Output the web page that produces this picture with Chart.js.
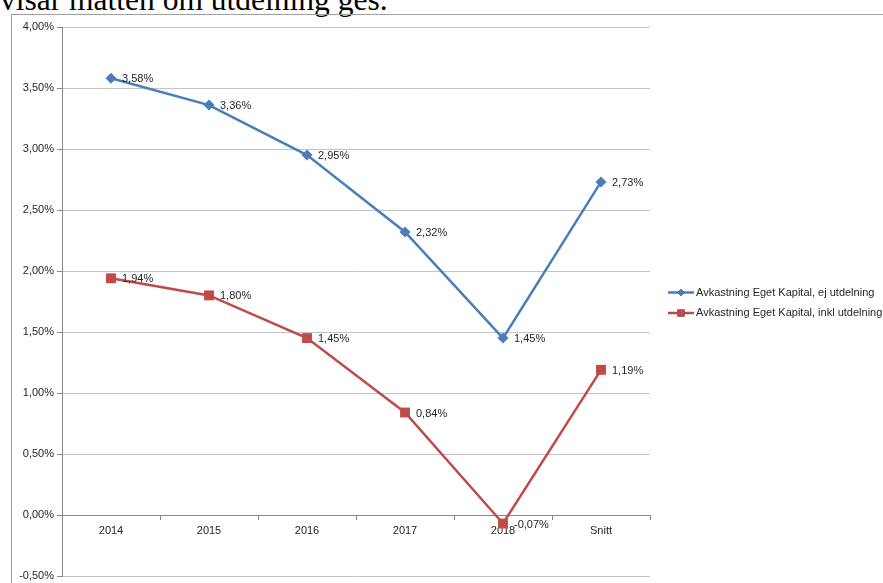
<!DOCTYPE html>
<html>
<head>
<meta charset="utf-8">
<script src="https://cdn.jsdelivr.net/npm/chart.js@4.4.0/dist/chart.umd.min.js"></script>
<style>
  html, body { margin: 0; padding: 0; background: #fff; overflow: hidden; }
  #wrap { position: relative; width: 883px; height: 583px; }
  #heading {
    position: absolute; left: 0; top: -16.5px; white-space: nowrap;
    font: 31.5px/31px "Liberation Serif", "Times New Roman", serif; color: #000;
  }
  #frame {
    position: absolute; left: 11px; top: 14px; width: 900px; height: 600px;
    border-left: 1px solid #a0a0a0; border-top: 1px solid #a0a0a0;
  }
  #chartBox { position: absolute; left: 0; top: 0; width: 883px; height: 583px; }
</style>
</head>
<body>
<div id="wrap">
  <div id="heading">visar måtten om utdelning ges.</div>
  <div id="frame"></div>
  <div id="chartBox"><canvas id="chart"></canvas></div>
</div>
<script>
const categories = ['2014', '2015', '2016', '2017', '2018', 'Snitt'];
const seriesNames = ['Avkastning Eget Kapital, ej utdelning', 'Avkastning Eget Kapital, inkl utdelning'];
const ejUtdelning = [3.58, 3.36, 2.95, 2.32, 1.45, 2.73];
const inklUtdelning = [1.94, 1.80, 1.45, 0.84, -0.07, 1.19];
const yTicks = [-0.5, 0, 0.5, 1, 1.5, 2, 2.5, 3, 3.5, 4];

const BLUE = '#4A7EBB';
const RED = '#BE4B48';
const FONT = '"Liberation Sans", Arial, sans-serif';

const pct = v => v.toFixed(2).replace('.', ',') + '%';

// etiquetas de valor a la derecha de cada punto
const valueLabels = {
  id: 'valueLabels',
  afterDatasetsDraw(chart) {
    const ctx = chart.ctx;
    ctx.save();
    ctx.font = '11px ' + FONT;
    ctx.fillStyle = '#262626';
    ctx.textBaseline = 'middle';
    ctx.textAlign = 'left';
    chart.data.datasets.forEach((ds, i) => {
      chart.getDatasetMeta(i).data.forEach((pt, j) => {
        ctx.fillText(pct(ds.data[j]), pt.x + 11, pt.y + 1);
      });
    });
    ctx.restore();
  }
};

// leyenda estilo Excel: línea + marcador
const sideLegend = {
  id: 'sideLegend',
  afterDraw(chart) {
    const ctx = chart.ctx;
    const x0 = 668, x1 = 694, ys = [292.5, 313];
    ctx.save();
    chart.data.datasets.forEach((ds, i) => {
      const y = ys[i];
      ctx.strokeStyle = ds.borderColor;
      ctx.lineWidth = 2.5;
      ctx.beginPath(); ctx.moveTo(x0, y); ctx.lineTo(x1, y); ctx.stroke();
      Chart.helpers.drawPoint(ctx, { pointStyle: ds.pointStyle, radius: i ? 5 : 3.5, borderWidth: 0 }, (x0 + x1) / 2, y);
      ctx.fillStyle = ds.borderColor;
      ctx.fill();
      ctx.fillStyle = '#262626';
      ctx.font = '11px ' + FONT;
      ctx.textBaseline = 'middle';
      ctx.fillText(ds.label, 696, y);
    });
    ctx.restore();
  }
};

new Chart(document.getElementById('chart'), {
  type: 'line',
  data: {
    labels: categories,
    datasets: [
      {
        label: seriesNames[0], data: ejUtdelning,
        borderColor: BLUE, backgroundColor: BLUE, borderWidth: 2.5,
        pointStyle: 'rectRot', pointRadius: 5.5, pointBorderWidth: 0, tension: 0
      },
      {
        label: seriesNames[1], data: inklUtdelning,
        borderColor: RED, backgroundColor: RED, borderWidth: 2.5,
        pointStyle: 'rect', pointRadius: 7, pointBorderWidth: 0, tension: 0
      }
    ]
  },
  options: {
    responsive: true, maintainAspectRatio: false, animation: false,
    layout: { padding: { left: 0, top: 27, right: 233, bottom: 6 } },
    plugins: { legend: { display: false }, tooltip: { enabled: false } },
    scales: {
      x: {
        position: { y: 0 },
        offset: true,
        grid: { offset: true, drawOnChartArea: false, tickLength: 4, color: '#888' },
        border: { color: '#888' },
        ticks: { padding: 5, color: '#262626', font: { family: FONT, size: 11 }, maxRotation: 0 }
      },
      y: {
        min: -0.5, max: 4,
        afterFit: s => { s.width = 62; s.paddingTop = 0; s.paddingBottom = 0; },
        afterBuildTicks: s => { s.ticks = yTicks.map(v => ({ value: v })); },
        grid: { color: '#c4c4c4', tickLength: 5, tickColor: '#888' },
        border: { color: '#888' },
        ticks: { padding: 3, color: '#262626', font: { family: FONT, size: 11 }, callback: v => pct(v) }
      }
    }
  },
  plugins: [valueLabels, sideLegend]
});
</script>
</body>
</html>
